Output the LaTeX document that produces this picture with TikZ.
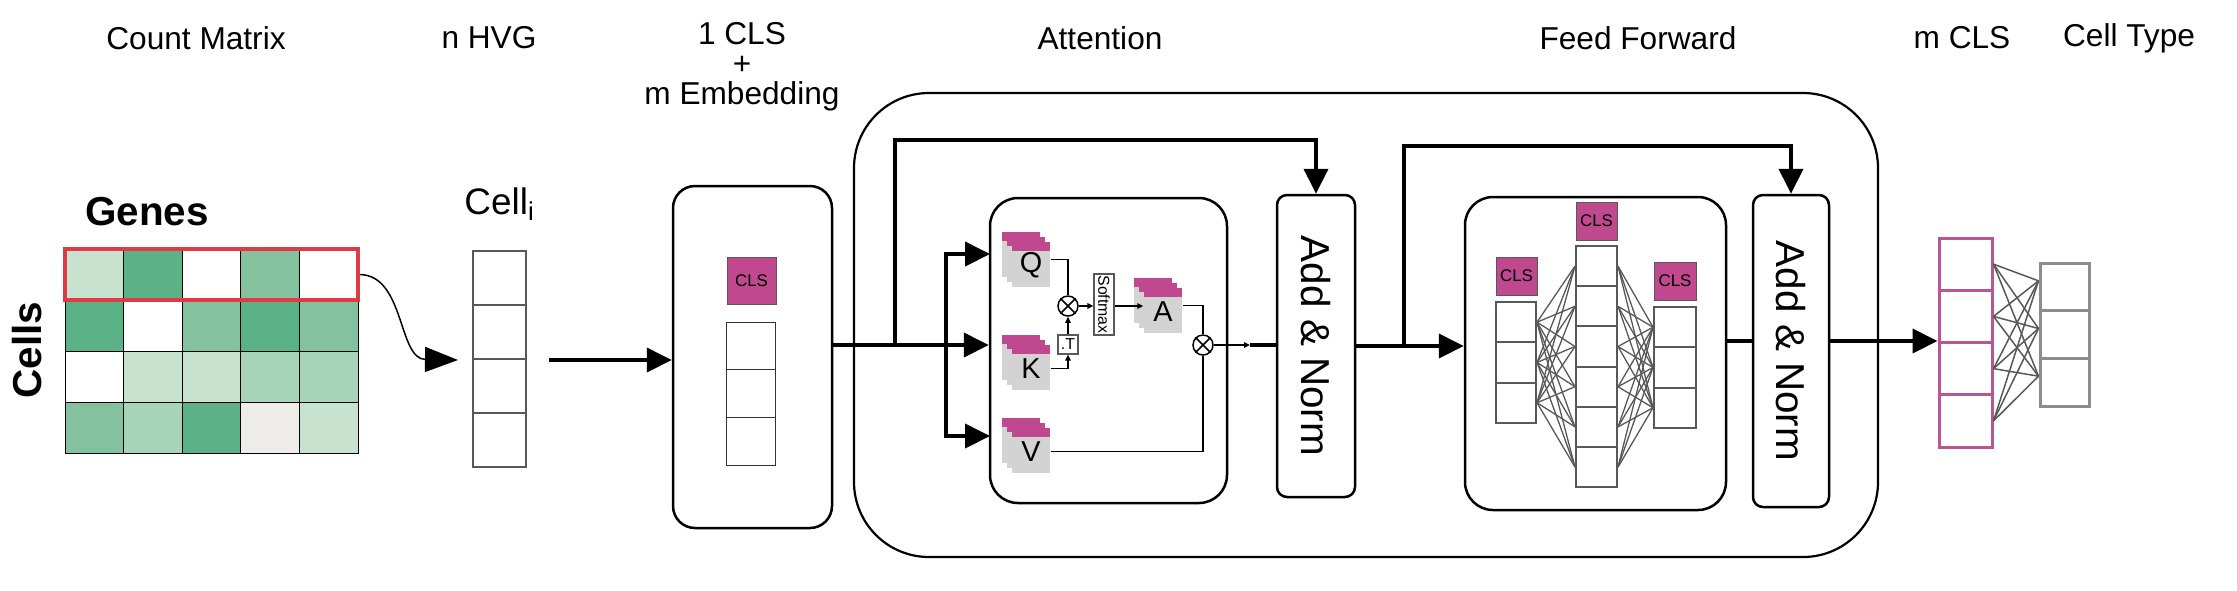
\documentclass[tikz,border=0pt]{standalone}
\usepackage{graphicx}
\usepackage{fontspec}
\setmainfont{Liberation Sans}
\usetikzlibrary{arrows.meta,positioning}

\definecolor{clsmag}{RGB}{192,72,142}
\definecolor{clsline}{RGB}{185,85,150}
\definecolor{gdark}{RGB}{92,178,135}
\definecolor{gmid}{RGB}{132,194,159}
\definecolor{glight}{RGB}{167,212,184}
\definecolor{gpale}{RGB}{199,227,207}
\definecolor{gbeige}{RGB}{238,236,233}
\definecolor{cardgray}{RGB}{211,211,211}
\definecolor{linegray}{RGB}{88,88,88}
\definecolor{typegray}{RGB}{140,140,140}
\definecolor{redframe}{RGB}{224,58,68}

\newcommand{\sheetstack}[4]{%
  \foreach \k in {0,1,2} {
    \fill[cardgray] (#1+5*\k,#2+5*\k) rectangle ++(38,45);
    \fill[clsmag] (#1+5*\k,#2+5*\k) rectangle ++(38,9);
  }
  \node[sheet] (#3) at (#1+29,#2+33.5) {#4};
}

\begin{document}
\begin{tikzpicture}[x=0.1mm,y=-0.1mm,>={Triangle[length=2.5mm,width=2.4mm]},
  title/.style={font=\fontsize{9}{8.5}\selectfont,align=center},
  bigtext/.style={font=\fontsize{11.5}{12}\selectfont\bfseries},
  box/.style={draw,line width=0.25mm,rounded corners=2.8mm,inner sep=0},
  addnorm/.style={draw,line width=0.25mm,rounded corners=1mm,inner sep=0,font=\fontsize{11.5}{12}\selectfont},
  cell/.style={draw=linegray,line width=0.2mm,fill=white,inner sep=0},
  clsbox/.style={fill=clsmag,draw=linegray,line width=0.08mm,inner sep=0,minimum width=4.1mm,minimum height=3.8mm,font=\fontsize{4.8}{5}\selectfont},
  sheet/.style={inner sep=0,minimum width=3.8mm,minimum height=4.5mm,font=\fontsize{8.2}{9}\selectfont},
  mul/.style={circle,draw,line width=0.15mm,fill=white,minimum size=2mm,inner sep=0},
  tbox/.style={draw=linegray,line width=0.12mm,fill=white,inner sep=0,font=\fontsize{4.5}{5}\selectfont},
  flow/.style={line width=0.4mm},
  wire/.style={line width=0.15mm,-{Triangle[length=0.6mm,width=0.55mm]}},
  net/.style={draw=linegray,line width=0.13mm}]

\useasboundingbox (0,0) rectangle (2237,590);

\node[title] (countT) at (196,38) {Count Matrix};
\node[title] (hvgT) at (489,38) {n HVG};
\node[title] (embT) at (742,67) {1 CLS\\+\\m Embedding};
\node[title] (attT) at (1100,38) {Attention};
\node[title] (ffT) at (1638,38) {Feed Forward};
\node[title] (mclsT) at (1962,38) {m CLS};
\node[title] (typeT) at (2129,38) {Cell Type};

\node[bigtext] (genes) at (147,212) {Genes};
\node[bigtext] (cells) at (27,350) {\rotatebox{90}{Cells}};

\foreach \row [count=\r from 0] in {{gpale,gdark,white,gmid,white},{gdark,white,gmid,gdark,gmid},{white,gpale,gpale,glight,glight},{gmid,glight,gdark,gbeige,gpale}}
  \foreach \col [count=\c from 0] in \row
    \draw[fill=\col,line width=0.1mm] (65+58.6*\c,249+51*\r) rectangle ++(58.6,51);

\node[draw=redframe,line width=0.45mm,inner sep=0,minimum width=29.3mm,minimum height=5.1mm] (rowsel) at (211.5,274.5) {};

\node[font=\fontsize{10.5}{12}\selectfont] (celliT) at (500,204) {Cell\textsubscript{i}};
\foreach \i in {1,...,4}
  \node[cell,minimum width=5.3mm,minimum height=5.4mm] (ci\i) at (499.5,224+54*\i) {};

\draw[line width=0.15mm,-{Triangle[length=3.3mm,width=2.5mm]}] (rowsel.east) .. controls (405,276) and (398,359) .. ([xshift=-1.4mm]ci2.south west);

\node[draw,line width=0.22mm,rounded corners=7.5mm,inner sep=0,minimum width=102.4mm,minimum height=46.4mm] (block) at (1366,325) {};
\node[box,rounded corners=2.2mm,minimum width=15.9mm,minimum height=34.2mm] (emb) at (752.5,357) {};
\node[box,minimum width=23.7mm,minimum height=30.5mm] (attn) at (1108.5,350.5) {};
\node[box,minimum width=26.1mm,minimum height=31.3mm] (ff) at (1595.5,353.5) {};
\node[addnorm,minimum width=7.8mm,minimum height=30.2mm] (an1) at (1316,346) {\rotatebox{-90}{Add \& Norm}};
\node[addnorm,minimum width=7.6mm,minimum height=31.2mm] (an2) at (1791,351) {\rotatebox{-90}{Add \& Norm}};

\draw[flow,->] ([xshift=2.2mm]ci2.south east) -- (emb.west |- ci2.south east);

\node[clsbox,minimum width=4.9mm,minimum height=4.7mm] (embcls) at (751.5,280.5) {CLS};
\foreach \i in {1,2,3}
  \node[cell,draw=black!80,line width=0.1mm,minimum width=4.9mm,minimum height=4.77mm] (ec\i) at (750.5,298.15+47.7*\i) {};

\coordinate (res1) at (895,345);
\coordinate (split) at (946,345);
\coordinate (qin) at (990,254);
\coordinate (vin) at (990,436);

\draw[flow,->] (emb.east |- res1) -- (attn.west |- res1);
\draw[flow,->] (split) |- (qin);
\draw[flow,->] (split) |- (vin);
\draw[flow,->] (res1) |- ([yshift=5.4mm]an1.north) -- (an1.north);

\sheetstack{1002}{232}{q}{Q}
\sheetstack{1002}{335}{k}{K}
\sheetstack{1002}{418}{v}{V}
\sheetstack{1134}{278}{a}{A}

\node[mul] (mul1) at (1068,306) {};
\node[mul] (mul2) at (1203,345) {};
\node[tbox,minimum width=2mm,minimum height=1.9mm] (tr) at (1068,344.5) {.T};
\node[tbox,minimum width=2mm,minimum height=6.1mm] (smax) at (1104,304.5) {\rotatebox{-90}{Softmax}};
\coordinate (tip) at (1250,345);

\draw[wire,-] ([yshift=0.6mm]q.east) -| (mul1.north);
\draw[wire] (k.east) -| (tr.south);
\draw[wire] (tr) -- (mul1);
\draw[wire] (mul1) -- (mul1 -| smax.west);
\draw[wire] (smax.east |- mul1) -- (a.west |- mul1);
\draw[wire,-] ([yshift=0.6mm]a.east) -| (mul2.north);
\draw[wire,-] (v.east) -| (mul2.south);
\draw[wire] (mul2) -- (tip);
\draw[flow] (tip) -- (an1.west |- tip);

\draw[line width=0.15mm] (mul1.north east) -- (mul1.south west) (mul1.north west) -- (mul1.south east);
\draw[line width=0.15mm] (mul2.north east) -- (mul2.south west) (mul2.north west) -- (mul2.south east);

\coordinate (res2) at (1404,346);
\coordinate (ffout) at (1726,341);

\draw[flow,->] (an1.east) -- (ff.west |- an1.east);
\draw[flow,->] (res2) |- ([yshift=4.8mm]an2.north) -- (an2.north);
\draw[flow] (ffout) -- (ffout -| an2.west);

\node[clsbox] (ffc1) at (1516.5,276) {CLS};
\node[clsbox] (ffc2) at (1596.5,221) {CLS};
\node[clsbox,minimum width=4.2mm] (ffc3) at (1675,281) {CLS};
\foreach \i in {1,2,3}
  \node[cell,minimum width=4mm,minimum height=4.03mm] (ffl\i) at (1516,281.85+40.3*\i) {};
\foreach \i in {1,...,6}
  \node[cell,minimum width=4.1mm,minimum height=4.02mm] (ffm\i) at (1596.5,225.9+40.2*\i) {};
\foreach \i in {1,2,3}
  \node[cell,minimum width=4.2mm,minimum height=4.03mm] (ffr\i) at (1675,286.85+40.3*\i) {};

\foreach \i in {1,2,3}
  \foreach \j in {1,...,6} {
    \draw[net] (ffl\i.east) -- (ffm\j.west);
    \draw[net] (ffm\j.east) -- (ffr\i.west);
  }

\foreach \i in {1,...,4}
  \node[cell,draw=clsline,line width=0.3mm,minimum width=5.3mm,minimum height=5.225mm] (mc\i) at (1965.5,211.875+52.25*\i) {};
\foreach \i in {1,2,3}
  \node[cell,draw=typegray,line width=0.3mm,minimum width=4.9mm,minimum height=4.767mm] (ct\i) at (2064.5,239.17+47.67*\i) {};

\foreach \i in {1,...,4}
  \foreach \j in {1,2,3}
    \draw[net,line width=0.15mm] (mc\i.east) -- ([yshift=0.6mm]ct\j.west);

\draw[flow,->] (an2.east |- ffout) -- (mc1.west |- ffout);

\end{tikzpicture}
\end{document}
